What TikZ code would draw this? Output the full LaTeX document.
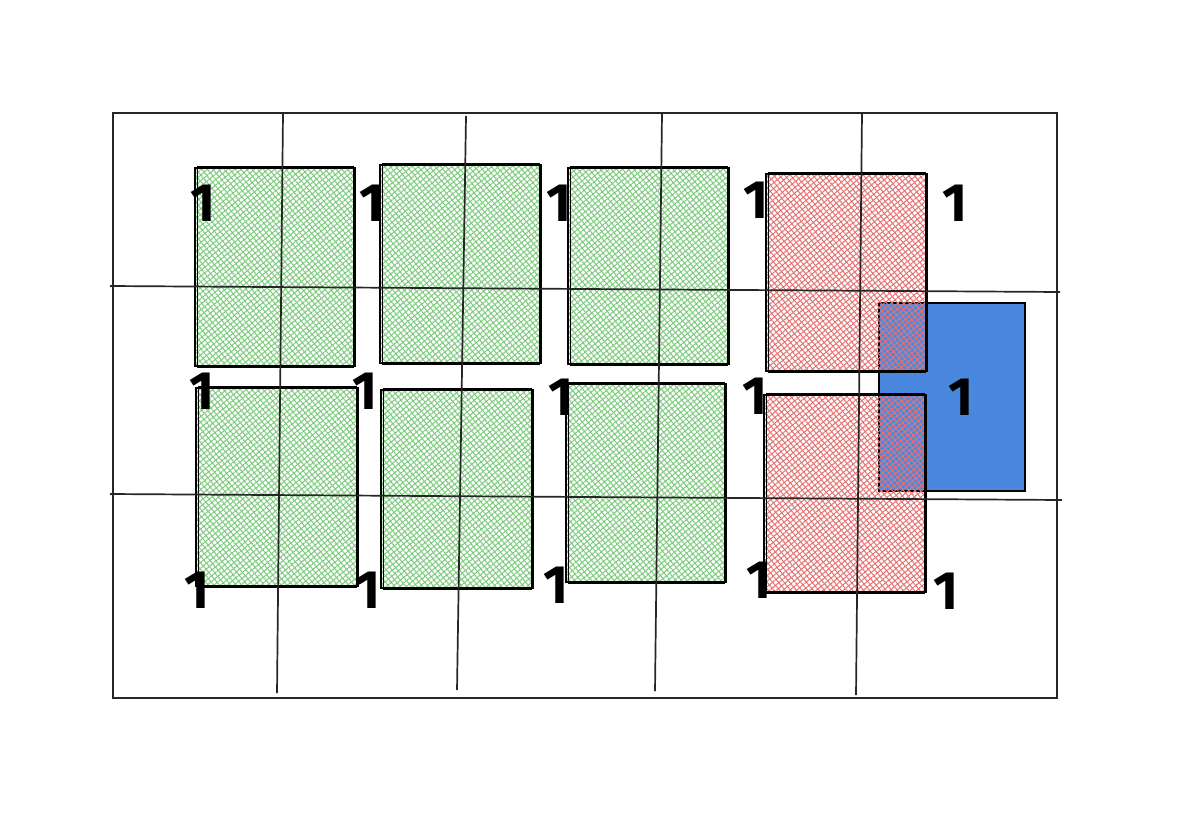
\documentclass[tikz,border=0pt]{standalone}
\usepackage{fontspec}
\setmainfont{Fira Sans}
\usetikzlibrary{patterns.meta,calc}
\definecolor{hgreen}{HTML}{7CCB7C}
\definecolor{hred}{HTML}{E67272}
\definecolor{bblue}{HTML}{4A88DF}
\tikzset{
  rough/.style={draw=black,line width=1.6pt},
  roughb/.style={draw=black,line width=0.7pt},
  gridln/.style={draw=black!85,line width=1.7pt},
  one/.style={font=\fontsize{54}{54}\selectfont\bfseries, inner sep=0pt, text=black},
}
\newcommand{\hatchbox}[5]{%
  \fill[pattern={Lines[angle=40,distance=4.3pt,line width=1pt]},pattern color=#1] (#2,#3) rectangle (#4,#5);
  \fill[pattern={Lines[angle=-50,distance=4.3pt,line width=1pt]},pattern color=#1] (#2,#3) rectangle (#4,#5);
  \draw[rough] (#2,#3) rectangle (#4,#5);
  \draw[roughb] ($(#2,#3)+(2,-1.5)$) rectangle ($(#4,#5)+(-1.5,1.5)$);
}
\begin{document}
\begin{tikzpicture}[x=1pt,y=-1pt]
\useasboundingbox (0,0) rectangle (1198,832);
\fill[white] (0,0) rectangle (1198,832);
% blue box
\fill[bblue] (879,303) rectangle (1025,491);
\draw[rough] (879,303) rectangle (1025,491);
% green boxes
\hatchbox{hgreen}{195}{168}{355}{366}
\hatchbox{hgreen}{380}{165}{541}{363}
\hatchbox{hgreen}{568}{168}{729}{364}
\hatchbox{hgreen}{196}{388}{358}{586}
\hatchbox{hgreen}{381}{390}{533}{588}
\hatchbox{hgreen}{566}{384}{726}{582}
% red boxes
\hatchbox{hred}{766}{174}{927}{371}
\hatchbox{hred}{764}{395}{926}{592}
% grid
\coordinate (tl) at (113,113);
\coordinate (tr) at (1057,113);
\coordinate (br) at (1057,698);
\coordinate (bl) at (113,698);
\draw[gridln] (tl) -- (tr) -- (br) -- (bl) -- cycle;
\coordinate (v1t) at (283,113); \coordinate (v1b) at (277,693);
\coordinate (v2t) at (466,116); \coordinate (v2b) at (457,690);
\coordinate (v3t) at (662,113); \coordinate (v3b) at (655,691);
\coordinate (v4t) at (862,113); \coordinate (v4b) at (856,695);
\coordinate (h1l) at (110,286); \coordinate (h1r) at (1060,292);
\coordinate (h2l) at (110,494); \coordinate (h2r) at (1062,500);
\draw[gridln] (v1t) -- (v1b);
\draw[gridln] (v2t) -- (v2b);
\draw[gridln] (v3t) -- (v3b);
\draw[gridln] (v4t) -- (v4b);
\draw[gridln] (h1l) -- (h1r);
\draw[gridln] (h2l) -- (h2r);
% labels
\node[one] (a1) at (203,203) {1};
\node[one] (a2) at (372,203) {1};
\node[one] (a3) at (559,203) {1};
\node[one] (a4) at (756,200) {1};
\node[one] (a5) at (955,203) {1};
\node[one] (b1) at (202,391) {1};
\node[one] (b2) at (365,391) {1};
\node[one] (b3) at (561,397) {1};
\node[one] (b4) at (755,396) {1};
\node[one] (b5) at (961,397) {1};
\node[one] (c1) at (197,590) {1};
\node[one] (c2) at (368,590) {1};
\node[one] (c3) at (556,585) {1};
\node[one] (c4) at (759,580) {1};
\node[one] (c5) at (946,591) {1};
\end{tikzpicture}
\end{document}
